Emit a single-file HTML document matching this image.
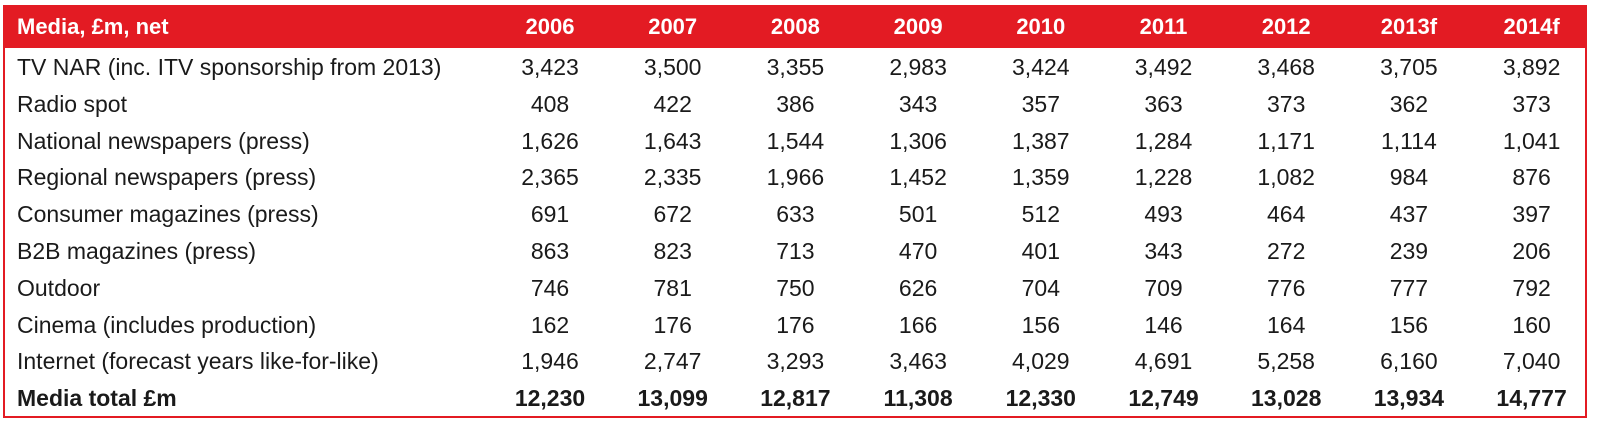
<!DOCTYPE html>
<html><head><meta charset="utf-8"><style>
body{margin:0;width:1599px;height:430px;background:#fff;position:relative;overflow:hidden;font-family:"Liberation Sans",Arial,sans-serif;}
#box{position:absolute;left:3px;top:5px;width:1580px;height:411px;border:2px solid #e31b23;border-top:none;}
#hdr{position:absolute;left:3px;top:5px;width:1584px;height:43px;background:#e31b23;}
.c{position:absolute;white-space:nowrap;}
.h{color:#fff;font-weight:bold;font-size:22px;top:14px;}
.b{color:#1a1a1a;font-size:23px;}
.n{transform:translateX(-50%);}
</style></head><body>
<div id="hdr"></div>
<div id="box"></div>
<div id="t"></div>
<script>
const years=["2006","2007","2008","2009","2010","2011","2012","2013f","2014f"];
const labels=["TV NAR (inc. ITV sponsorship from 2013)","Radio spot","National newspapers (press)","Regional newspapers (press)","Consumer magazines (press)","B2B magazines (press)","Outdoor","Cinema (includes production)","Internet (forecast years like-for-like)","Media total £m"];
const values=[
["3,423","3,500","3,355","2,983","3,424","3,492","3,468","3,705","3,892"],
["408","422","386","343","357","363","373","362","373"],
["1,626","1,643","1,544","1,306","1,387","1,284","1,171","1,114","1,041"],
["2,365","2,335","1,966","1,452","1,359","1,228","1,082","984","876"],
["691","672","633","501","512","493","464","437","397"],
["863","823","713","470","401","343","272","239","206"],
["746","781","750","626","704","709","776","777","792"],
["162","176","176","166","156","146","164","156","160"],
["1,946","2,747","3,293","3,463","4,029","4,691","5,258","6,160","7,040"],
["12,230","13,099","12,817","11,308","12,330","12,749","13,028","13,934","14,777"]];
const t=document.getElementById('t');
function mk(txt,cls,x,y,bold){const d=document.createElement('div');d.className='c '+cls;d.textContent=txt;d.style.left=x+'px';if(y!==null)d.style.top=y+'px';if(bold)d.style.fontWeight='bold';t.appendChild(d);return d;}
const colX=i=>550+i*122.7;
let e=mk("Media, £m, net","h",17,null,false);


years.forEach((y,i)=>{const d=mk(y,"h n",colX(i),null,false);

});
labels.forEach((l,r)=>{const top=54+r*36.8;const bold=r===9;
const d=mk(l,"b",17,top,bold);


values[r].forEach((v,i)=>{const c=mk(v,"b n",colX(i),top,bold);

});});
</script>
</body></html>
